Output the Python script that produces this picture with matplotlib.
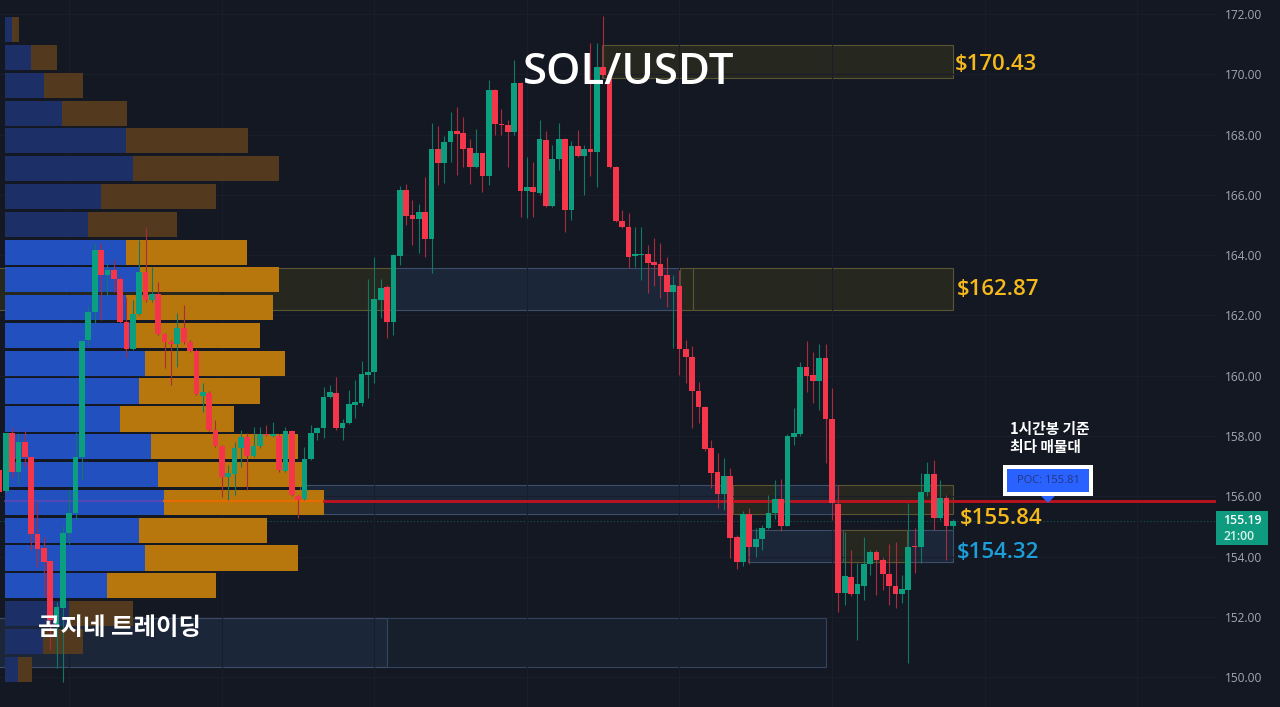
import matplotlib
matplotlib.use("Agg")
import matplotlib.pyplot as plt
import numpy as np
from matplotlib.patches import Polygon, Rectangle

plt.rcParams["font.family"] = ["Noto Sans CJK KR", "DejaVu Sans"]

W, H = 1280, 707
BG, GRID = "#141823", "#1a1e2b"
UP, DOWN = "#0b9f80", "#f5364a"
UP_WICK, DOWN_WICK = "#0e7a66", "#a92b3c"
LATIN = "Open Sans"

# OHLC, one row per ten bars, first bar is index -1
opens = [156.87,
    156.18, 158.1, 156.81, 157.8, 157.31, 154.75, 154.27, 153.86, 151.75, 152.3,
    154.78, 155.44, 157.29, 161.2, 162.12, 164.17, 163.34, 163.5, 163.22, 161.79,
    160.88, 162.05, 163.44, 162.51, 162.71, 161.37, 161.13, 161.05, 161.58, 161.13,
    160.82, 159.33, 159.44, 158.2, 157.67, 156.63, 156.74, 157.59, 157.96, 157.33,
    157.68, 158.07, 158.0, 158.0, 156.85, 158.18, 156.01, 155.9, 157.23, 158.11,
    158.25, 159.3, 159.44, 158.25, 158.42, 159.03, 159.08, 160.03, 160.13, 162.51,
    162.95, 161.79, 163.98, 166.16, 165.33, 165.2, 165.44, 164.53, 167.52, 167.07,
    167.75, 168.12, 168.05, 167.55, 166.92, 167.38, 166.63, 169.48, 168.34, 168.32,
    168.1, 169.71, 166.14, 166.26, 166.07, 167.82, 165.64, 167.19, 167.85, 165.5,
    167.63, 167.3, 167.52, 167.41, 170.25, 169.97, 166.91, 165.14, 164.94, 163.98,
    164.0, 164.03, 163.78, 163.7, 163.34, 162.78, 162.98, 160.87, 160.63, 159.5,
    158.97, 157.59, 156.79, 156.07, 156.68, 154.64, 153.83, 155.4, 154.3, 154.58,
    154.94, 155.45, 155.91, 155.02, 157.98, 158.07, 160.3, 160.02, 159.82, 160.58,
    158.56, 155.74, 152.78, 153.33, 152.76, 153.03, 153.75, 154.14, 153.88, 153.42,
    153.02, 152.75, 152.89, 154.33, 154.31, 156.13, 156.74, 155.29, 155.94, 155.0]
highs = [156.95,
    158.1, 158.26, 158.1, 158.18, 157.35, 155.8, 154.66, 153.9, 152.5, 155.0,
    156.2, 158.13, 161.2, 162.3, 164.4, 164.41, 163.72, 163.84, 163.3, 162.6,
    162.5, 164.5, 164.9, 163.6, 163.1, 161.4, 161.2, 162.07, 162.34, 161.2,
    160.9, 159.75, 159.5, 158.53, 157.7, 157.03, 157.8, 158.2, 158.1, 158.3,
    158.31, 158.36, 158.45, 158.05, 158.3, 158.2, 156.05, 157.65, 158.36, 158.3,
    159.63, 159.69, 159.97, 158.55, 159.52, 159.85, 160.5, 163.2, 163.95, 163.2,
    163.0, 164.05, 166.3, 166.36, 165.83, 165.7, 166.6, 168.38, 168.3, 167.95,
    168.76, 168.92, 168.59, 167.85, 168.2, 167.4, 169.81, 169.5, 168.84, 168.48,
    170.47, 169.75, 167.27, 167.1, 168.48, 168.13, 167.65, 168.38, 167.9, 167.8,
    168.15, 167.65, 171.03, 171.03, 171.93, 170.0, 166.95, 165.5, 165.4, 164.94,
    164.94, 164.34, 164.56, 164.41, 163.95, 163.34, 163.5, 161.2, 161.0, 159.8,
    159.0, 157.87, 157.43, 157.27, 156.94, 154.7, 155.5, 155.6, 154.95, 155.05,
    156.04, 156.53, 156.58, 158.05, 158.93, 160.47, 161.16, 160.8, 161.05, 161.05,
    159.59, 156.37, 154.8, 154.22, 153.78, 154.66, 154.2, 154.2, 154.0, 154.41,
    154.49, 153.4, 155.78, 154.95, 156.77, 157.15, 157.2, 156.53, 156.05, 155.25]
lows = [156.1,
    156.1, 156.65, 156.4, 157.0, 154.2, 153.65, 152.67, 150.9, 150.3, 149.85,
    154.4, 155.2, 156.55, 161.0, 161.74, 161.85, 162.68, 162.78, 161.75, 160.6,
    160.85, 162.0, 162.45, 162.45, 161.35, 160.25, 159.7, 160.3, 161.05, 160.8,
    159.35, 158.8, 158.15, 157.65, 155.99, 155.88, 156.04, 156.98, 156.2, 157.3,
    157.6, 158.0, 157.95, 156.8, 156.8, 156.0, 155.28, 155.88, 157.2, 157.87,
    157.93, 159.25, 158.2, 157.87, 158.4, 158.6, 159.0, 159.26, 159.76, 161.9,
    161.25, 161.35, 163.67, 165.0, 164.34, 164.08, 163.95, 163.4, 166.33, 166.4,
    167.1, 166.66, 166.92, 166.36, 166.9, 166.1, 166.33, 167.98, 167.98, 166.92,
    168.0, 165.28, 165.22, 165.26, 166.0, 165.6, 165.6, 166.82, 164.78, 165.17,
    167.25, 166.0, 166.63, 166.27, 169.9, 166.9, 165.1, 164.9, 163.57, 163.6,
    163.17, 162.73, 162.99, 162.58, 162.29, 160.92, 160.02, 159.76, 158.26, 158.43,
    157.5, 156.27, 155.61, 155.55, 153.95, 153.6, 153.68, 153.75, 154.0, 154.2,
    154.9, 155.25, 154.85, 155.0, 157.7, 158.0, 159.47, 159.1, 158.86, 157.1,
    155.2, 152.17, 152.4, 152.7, 151.23, 152.56, 153.39, 152.72, 152.89, 152.39,
    152.3, 152.46, 150.47, 153.45, 153.78, 156.0, 154.88, 155.2, 153.88, 154.9]
closes = [156.14,
    158.09, 156.81, 157.8, 157.31, 154.75, 154.25, 153.83, 151.9, 152.34, 154.78,
    155.44, 157.3, 161.16, 162.1, 164.17, 163.34, 163.5, 163.2, 161.79, 160.88,
    162.05, 163.44, 162.51, 162.71, 161.38, 161.13, 161.04, 161.58, 161.13, 160.82,
    159.38, 159.46, 158.2, 157.67, 156.65, 156.76, 157.59, 157.98, 157.33, 157.68,
    158.07, 158.02, 158.05, 156.87, 158.18, 156.04, 155.88, 157.23, 158.11, 158.26,
    159.3, 159.47, 158.25, 158.44, 159.06, 159.12, 160.06, 160.13, 162.53, 162.92,
    161.79, 164.0, 166.16, 165.3, 165.2, 165.44, 164.53, 167.52, 167.07, 167.76,
    168.13, 168.01, 167.52, 166.92, 167.38, 166.63, 169.48, 168.34, 168.33, 168.1,
    169.71, 166.14, 166.26, 166.1, 167.85, 165.64, 167.19, 167.85, 165.5, 167.63,
    167.3, 167.52, 167.41, 170.25, 169.97, 166.91, 165.14, 164.94, 163.95, 164.03,
    164.03, 163.75, 163.67, 163.31, 162.78, 163.0, 160.87, 160.63, 159.5, 158.96,
    157.57, 156.77, 156.07, 156.68, 154.63, 153.83, 155.4, 154.3, 154.58, 154.96,
    155.45, 155.91, 155.0, 158.0, 158.09, 160.3, 160.0, 159.82, 160.58, 158.56,
    155.77, 152.8, 153.35, 152.76, 153.08, 153.75, 154.14, 153.88, 153.42, 153.02,
    152.75, 152.92, 154.33, 154.31, 156.15, 156.74, 155.29, 155.94, 155.0, 155.19]

# volume profile, top row first; volumes are in the picture's own width units
row_prices = [171.48, 170.56, 169.63, 168.71, 167.79, 166.87, 165.94, 165.02,
              164.10, 163.18, 162.25, 161.33, 160.41, 159.49, 158.56, 157.64,
              156.72, 155.80, 154.87, 153.95, 153.03, 152.11, 151.18, 150.26]
buy_vol = [6.7, 26, 38.7, 57.3, 121.3, 128, 95.7, 83,
           121, 134, 121, 129.3, 140.3, 133.7, 115, 146.3,
           153, 159, 133.7, 140.3, 102.3, 64, 38.3, 13.3]
sell_vol = [7.3, 26, 39, 64.4, 121.4, 146.3, 115.3, 89.3,
            121.3, 140.3, 146.7, 125.7, 140, 121.3, 114.3, 147,
            145, 159.7, 128, 152.7, 108.7, 64.3, 39.4, 13.4]
row_active = [False] * 8 + [True] * 13 + [False] * 3

# zones: first bar, last bar, top price, bottom price
yellow_zones = [(93.8, 149.0, 170.97, 169.87), (-3, 60.8, 163.56, 162.17),
                (106.1, 108.1, 163.56, 162.17), (108.1, 149.0, 163.56, 162.17),
                (114.4, 121.0, 156.37, 155.40), (130.9, 149.0, 156.37, 155.40),
                (131.7, 141.8, 154.88, 153.82)]
blue_zones = [(60.8, 106.1, 163.56, 162.17), (46.3, 114.4, 156.37, 155.40),
              (121.0, 130.9, 156.37, 155.40), (116.8, 149.0, 154.88, 153.82),
              (-3, 60.0, 151.96, 150.34)]
dim_zones = [(60.0, 129.0, 151.96, 150.34)]

price_ticks = np.arange(150, 173, 2)
day_bars = [10, 34, 58, 82, 106, 130, 154, 178]
poc_price = 155.83
last_price = 155.19
PX_PER_BAR, BAR0_PX = 6.356, 5.7
PX_PER_PRICE, PRICE172_PX = 30.14, 14


def to_fig(x, y):
    return x / W, 1 - y / H


def add_box(x0, y0, x1, y1, color, z=10):
    fig.add_artist(Rectangle(to_fig(x0, y1), (x1 - x0) / W, (y1 - y0) / H,
                             transform=fig.transFigure, color=color, lw=0, zorder=z))


def add_text(x, y, s, **kw):
    fig.text(*to_fig(x, y), s, zorder=12, **kw)


fig = plt.figure(figsize=(W / 100, H / 100), dpi=100, facecolor=BG)
ax = fig.add_axes([0, 0, 1216 / W, 1], facecolor=BG)
ax.set_xlim(-BAR0_PX / PX_PER_BAR, (1216 - BAR0_PX) / PX_PER_BAR)
ax.set_ylim(172 - (H - PRICE172_PX) / PX_PER_PRICE, 172 + PRICE172_PX / PX_PER_PRICE)

for s in ax.spines.values():
    s.set_visible(False)
ax.yaxis.tick_right()
ax.set_yticks(price_ticks, [f"{p:.2f}" for p in price_ticks], family=LATIN)
ax.set_xticks(day_bars, [])
ax.tick_params(axis="both", length=0)
ax.tick_params(axis="y", colors="#a5a8b2", labelsize=8.6, pad=6.5)
ax.grid(True, color=GRID, linewidth=0.8, zorder=0)

# zones sit under everything else
for x0, x1, top, bot in blue_zones:
    ax.add_patch(Rectangle((x0, bot), x1 - x0, top - bot, facecolor="#1b2639",
                           edgecolor="#3d4f68", lw=0.8, zorder=1))
for x0, x1, top, bot in dim_zones:
    ax.add_patch(Rectangle((x0, bot), x1 - x0, top - bot, facecolor="#171f2d",
                           edgecolor="#33445b", lw=0.8, zorder=1))
for x0, x1, top, bot in yellow_zones:
    ax.add_patch(Rectangle((x0, bot), x1 - x0, top - bot, facecolor="#26271f",
                           edgecolor="#5a5533", lw=0.8, zorder=1.5))

# volume profile
vp_left = (5 - BAR0_PX) / PX_PER_BAR
buy_w = np.array(buy_vol) / PX_PER_BAR
sell_w = np.array(sell_vol) / PX_PER_BAR
row_h = 25.2 / PX_PER_PRICE
ax.barh(row_prices, buy_w, left=vp_left, height=row_h, zorder=2,
        color=["#2350bf" if a else "#1c2f66" for a in row_active])
ax.barh(row_prices, sell_w, left=vp_left + buy_w, height=row_h, zorder=2,
        color=["#b8770d" if a else "#533a1e" for a in row_active])

# POC line, tinted where it crosses the profile row
poc_row = int(np.argmin(np.abs(np.array(row_prices) - poc_price)))
split = vp_left + buy_w[poc_row]
end = split + sell_w[poc_row]
ax.plot([vp_left, split], [poc_price] * 2, color="#5d47b5", lw=1.2, zorder=2.5)
ax.plot([split, end], [poc_price] * 2, color="#e56b00", lw=1.6, zorder=2.5)
ax.plot([end, ax.get_xlim()[1]], [poc_price] * 2, color="#c1121f", lw=2, zorder=2.5)
ax.axhline(last_price, color="#0e5a50", lw=0.8, ls=(0, (1, 2)), zorder=1.2)

# candles
bars = np.arange(-1, len(opens) - 1)
o, h, l, c = map(np.array, (opens, highs, lows, closes))
up = c >= o
ax.vlines(bars, l, h, colors=np.where(up, UP_WICK, DOWN_WICK), lw=0.8, zorder=3)
ax.bar(bars, np.maximum(np.abs(c - o), 0.03), bottom=np.minimum(o, c), width=0.9,
       color=np.where(up, UP, DOWN), zorder=4)

# price tag on the scale
add_box(1216, 511, 1268, 545, "#0e9b7f")
add_text(1242, 521, "155.19", color="white", fontsize=8.8, family=LATIN,
         fontweight="semibold", ha="center", va="center")
add_text(1239, 536, "21:00", color="#d8f0ea", fontsize=8.8, family=LATIN,
         fontweight="semibold", ha="center", va="center")

# POC callout
add_box(1003, 465, 1093, 496, "white")
add_box(1007, 469, 1089, 492, "#2962ff", z=11)
add_text(1048, 480.5, "POC: 155.81", color="#24377f", fontsize=8, family=LATIN,
         ha="center", va="center")
fig.add_artist(Polygon([to_fig(1042, 496), to_fig(1054, 496), to_fig(1048, 502)],
                       transform=fig.transFigure, color="#2962ff", zorder=9))

# annotations
add_text(629, 73, "SOL/USDT", color="white", fontsize=31.5, family=LATIN, fontweight="semibold",
         ha="center", va="center")
for x, y, s, col in [(955, 65, "$170.43", "#f5b91c"), (957, 290, "$162.87", "#f5b91c"),
                     (960, 518, "$155.84", "#f5b91c"), (957, 553, "$154.32", "#1c9fd8")]:
    add_text(x, y, s, color=col, fontsize=16, family=LATIN, fontweight="semibold", va="center")
add_text(1010, 429, "1시간봉 기준", color="white", fontsize=10.6, fontweight="bold", va="center")
add_text(1010, 447, "최다 매물대", color="white", fontsize=10.6, fontweight="bold", va="center")
add_text(38, 628, "곰지네 트레이딩", color="white", fontsize=17.6, fontweight="bold", va="center")

fig.savefig("out.png", dpi=100, facecolor=BG)
